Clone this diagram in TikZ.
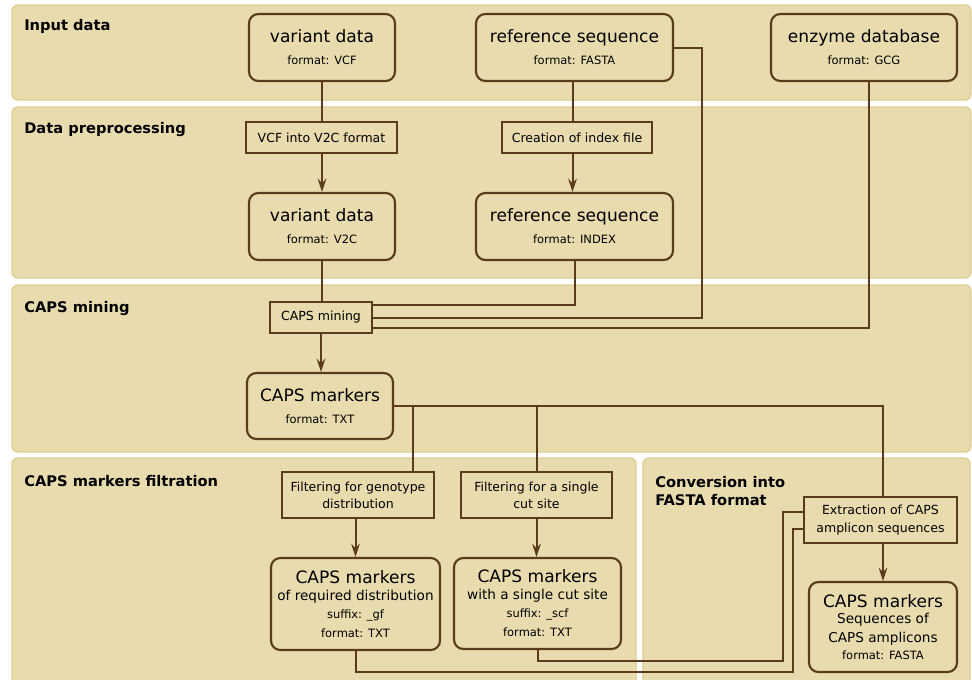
\documentclass[tikz,border=0pt]{standalone}
\usepackage{fontspec}
\setmainfont{DejaVu Sans}
\usetikzlibrary{arrows.meta,calc}
\definecolor{panelfill}{RGB}{232,220,174}
\definecolor{paneledge}{RGB}{222,206,146}
\definecolor{ink}{RGB}{92,58,28}
\newcommand\ttlfont{\fontsize{12.8}{15}\selectfont}
\newcommand\subfont{\fontsize{10.2}{12}\selectfont}
\begin{document}
\begin{tikzpicture}[x=0.75pt,y=-0.75pt,
  panel/.style={fill=panelfill,draw=paneledge,line width=1pt,rounded corners=4.5pt},
  sect/.style={font=\bfseries\fontsize{11}{13.5}\selectfont,inner sep=0pt,align=left},
  databox/.style={draw=ink,fill=panelfill,line width=1.6pt,rounded corners=7pt,inner sep=0pt,align=center,font=\fontsize{8.6}{13.5}\selectfont},
  procbox/.style={draw=ink,fill=panelfill,line width=1.6pt,inner sep=0pt,align=center,font=\fontsize{9.4}{12.75}\selectfont},
  link/.style={draw=ink,line width=1.5pt},
  arr/.style={link,-{Stealth[length=10pt,width=6.5pt,inset=3.5pt]}},
]
\useasboundingbox (0,0) rectangle (972,679);
\clip (0,0) rectangle (972,679);
\fill[white] (0,0) rectangle (972,679);
% panels
\draw[panel] (12,5) rectangle (971,100);
\draw[panel] (12,107) rectangle (971,278);
\draw[panel] (12,285) rectangle (971,452);
\draw[panel] (12,458) rectangle (636,700);
\draw[panel] (643,458) rectangle (970,700);
% section labels
\node[sect,anchor=base west] (s1) at (24,30) {Input data};
\node[sect,anchor=base west] (s2) at (24,133) {Data preprocessing};
\node[sect,anchor=base west] (s3) at (24,312) {CAPS mining};
\node[sect,anchor=base west] (s4) at (24,486) {CAPS markers filtration};
\node[sect,anchor=north west] (s5) at (655,476) {Conversion into\\FASTA format};
% data nodes
\node[databox,minimum width=109.5pt,minimum height=50.25pt] (vcf) at (322,47.5) {{\ttlfont variant data}\\[3pt] format: VCF};
\node[databox,minimum width=147.75pt,minimum height=50.25pt] (fasta) at (574.5,47.5) {{\ttlfont reference sequence}\\[3pt] format: FASTA};
\node[databox,minimum width=139.5pt,minimum height=50.25pt] (enz) at (864,47.5) {{\ttlfont enzyme database}\\[3pt] format: GCG};
\node[procbox,minimum width=113.25pt,minimum height=23.25pt] (p1) at (321.5,137.5) {VCF into V2C format};
\node[procbox,minimum width=112.5pt,minimum height=23.25pt] (p2) at (577,137.5) {Creation of index file};
\node[databox,minimum width=109.5pt,minimum height=50.25pt] (v2c) at (322,226.5) {{\ttlfont variant data}\\[3pt] format: V2C};
\node[databox,minimum width=147.75pt,minimum height=50.25pt] (index) at (574.5,226.5) {{\ttlfont reference sequence}\\[3pt] format: INDEX};
\node[procbox,minimum width=76.5pt,minimum height=23.25pt] (mining) at (321,317.5) {CAPS mining};
\node[databox,minimum width=109.5pt,minimum height=49.5pt] (caps) at (320,406) {{\ttlfont CAPS markers}\\[3pt] format: TXT};
\node[procbox,minimum width=114pt,minimum height=34.5pt] (fg) at (358,495) {Filtering for genotype\\distribution};
\node[procbox,minimum width=113.25pt,minimum height=34.5pt] (fs) at (536.5,495) {Filtering for a single\\cut site};
\node[databox,minimum width=126.75pt,minimum height=69pt] (cg) at (355.5,604) {{\ttlfont CAPS markers}\\[-0.75pt] {\subfont of required distribution}\\ suffix: \_gf\\[0.75pt] format: TXT};
\node[databox,minimum width=125.25pt,minimum height=68.25pt] (cs) at (537.5,603.5) {{\ttlfont CAPS markers}\\[-0.75pt] {\subfont with a single cut site}\\ suffix: \_scf\\[0.75pt] format: TXT};
\node[procbox,minimum width=114.75pt,minimum height=34.5pt,font=\fontsize{9.4}{13.5}\selectfont] (ex) at (880.5,520) {Extraction of CAPS\\amplicon sequences};
\node[databox,minimum width=111pt,minimum height=67.5pt] (cf) at (883,627) {{\ttlfont CAPS markers}\\[-1.5pt] {\subfont Sequences of}\\[0.75pt] {\subfont CAPS amplicons}\\[-0.75pt] format: FASTA};
% junction coordinates
\coordinate (j2) at (702,317.5);
\coordinate (b1) at (413,406);
\coordinate (b2) at (537,406);
\coordinate (k1) at (793,672);
\coordinate (k2) at (783,661);
% connectors
\draw[link] (vcf.south) -- (vcf.south |- p1.north);
\draw[arr] (p1.south -| v2c.north) -- (v2c.north);
\draw[link] ([xshift=-1.5pt]fasta.south) -- ([xshift=-1.5pt]fasta.south |- p2.north);
\draw[arr] ([xshift=-1.5pt]p2.south -| fasta.south) -- ([xshift=-1.5pt]fasta.south |- index.north);
\draw[link] (v2c.south) -- (v2c.south |- mining.north);
\draw[link] (index.south) |- ([yshift=-3pt]mining.north east);
\draw[link] (fasta.east) -| (j2) -- (mining.east);
\draw[link] ([xshift=3.75pt]enz.south) |- ([yshift=4.5pt]mining.south east);
\draw[arr] (mining.south) -- (mining.south |- caps.north);
\draw[link] (caps.east) -| (cf.north |- ex.north);
\draw[link] (b1) -- (b1 |- fg.north);
\draw[link] (b2) -- (b2 |- fs.north);
\draw[arr] (fg.south -| cg.north) -- (cg.north);
\draw[arr] (fs.south) -- (fs.south |- cs.north);
\draw[arr] (ex.south -| cf.north) -- (cf.north);
\draw[link] (cg.south) |- (k1) |- ([yshift=-6.75pt]ex.west);
\draw[link] (cs.south) |- (k2) |- ([yshift=6pt]ex.west);
\end{tikzpicture}
\end{document}
